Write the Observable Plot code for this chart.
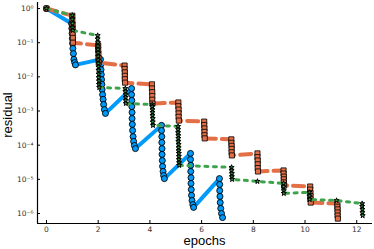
<!DOCTYPE html>
<html><head><meta charset="utf-8">
<script src="https://cdn.jsdelivr.net/npm/d3@7"></script>
<script src="https://cdn.jsdelivr.net/npm/@observablehq/plot@0.6"></script>
<style>html,body{margin:0;padding:0;background:#fff}svg{display:block}</style>
</head><body><div id="chart"></div>
<script>
// ---- axes ----
const xTicks = [0, 2, 4, 6, 8, 10, 12];
const yTicks = [1e0, 1e-1, 1e-2, 1e-3, 1e-4, 1e-5, 1e-6];
const yTickLabels = ["10⁰", "10⁻¹", "10⁻²", "10⁻³", "10⁻⁴", "10⁻⁵", "10⁻⁶"];
const xLabel = "epochs";
const yLabel = "residual";

// ---- series 1 (blue, circles, solid) ----
const blueEpochs = [0,
  0.97, 0.98, 0.99, 1.00, 1.01, 1.02, 1.04, 1.06, 1.09, 1.12,
  2.09, 2.10, 2.11, 2.12, 2.13, 2.14, 2.15, 2.17, 2.19, 2.21, 2.24, 2.28,
  3.29, 3.29, 3.30, 3.30, 3.31, 3.31, 3.32, 3.33, 3.35, 3.37, 3.40, 3.44,
  4.45, 4.45, 4.46, 4.46, 4.47, 4.47, 4.48, 4.49, 4.51, 4.53, 4.56,
  5.57, 5.57, 5.58, 5.58, 5.59, 5.59, 5.60, 5.61, 5.63, 5.66, 5.69,
  6.69, 6.70, 6.70, 6.71, 6.72, 6.74, 6.77, 6.81];
const blueResidual = [1,
  0.363, 0.263, 0.186, 0.132, 0.0955, 0.0676, 0.0479, 0.0324, 0.0263, 0.0224,
  0.0324, 0.0229, 0.0162, 0.0117, 0.00832, 0.00603, 0.00427, 0.00302, 0.00219, 0.00155, 0.00110, 0.000851,
  0.00457, 0.00302, 0.00204, 0.00135, 0.000912, 0.000603, 0.000407, 0.000269, 0.000178, 0.000129, 9.77e-5, 7.94e-5,
  3.80e-4, 2.69e-4, 1.78e-4, 1.20e-4, 7.94e-5, 5.37e-5, 3.55e-5, 2.40e-5, 1.70e-5, 1.29e-5, 1.05e-5,
  5.75e-5, 3.80e-5, 2.57e-5, 1.70e-5, 1.12e-5, 7.59e-6, 5.01e-6, 3.39e-6, 2.40e-6, 1.82e-6, 1.51e-6,
  1.05e-5, 7.08e-6, 4.68e-6, 3.16e-6, 2.09e-6, 1.41e-6, 1.00e-6, 7.59e-7];

// ---- series 2 (orange, squares, dashed) ----
const orangeEpochs = [0,
  1.00, 1.00, 1.01, 1.01, 1.01, 1.02, 1.02,
  2.00, 2.00, 2.01, 2.01, 2.02,
  3.02, 3.02, 3.03, 3.03, 3.03, 3.04,
  4.08, 4.08, 4.09, 4.09, 4.09, 4.10,
  5.10, 5.10, 5.11, 5.11, 5.11, 5.12,
  6.10, 6.10, 6.11, 6.11, 6.11, 6.12,
  7.15, 7.15, 7.16, 7.16, 7.16, 7.17,
  8.16, 8.16, 8.17, 8.17, 8.17, 8.18,
  9.17, 9.17, 9.18, 9.18, 9.18, 9.19,
  10.20, 10.20, 10.21, 10.21, 10.21, 10.22,
  11.25, 11.25, 11.26, 11.26, 11.26, 11.27];
const orangeResidual = [1,
  0.617, 0.457, 0.339, 0.251, 0.186, 0.138, 0.100,
  0.0832, 0.0631, 0.0479, 0.0355, 0.0263,
  0.0214, 0.0170, 0.0135, 0.0107, 0.00851, 0.00676,
  0.00603, 0.00457, 0.00355, 0.00275, 0.00214, 0.00166,
  0.00178, 0.00138, 0.00110, 0.000851, 0.000676, 0.000525,
  4.90e-4, 3.89e-4, 3.09e-4, 2.45e-4, 1.95e-4, 1.58e-4,
  1.48e-4, 1.17e-4, 9.55e-5, 7.76e-5, 6.17e-5, 5.01e-5,
  5.75e-5, 4.47e-5, 3.55e-5, 2.75e-5, 2.14e-5, 1.70e-5,
  1.82e-5, 1.48e-5, 1.20e-5, 1.00e-5, 8.13e-6, 6.61e-6,
  6.17e-6, 5.01e-6, 3.98e-6, 3.24e-6, 2.63e-6, 2.09e-6,
  1.95e-6, 1.58e-6, 1.32e-6, 1.07e-6, 8.71e-7, 7.08e-7];

// ---- series 3 (green, stars, dotted) ----
const greenEpochs = [0,
  1.00, 1.00, 1.01, 1.01, 1.02,
  1.98, 1.98, 1.99, 1.99, 1.99, 2.00, 2.00, 2.00, 2.01, 2.01, 2.01, 2.02, 2.02, 2.03, 2.03, 2.04,
  3.05, 3.05, 3.06, 3.06, 3.06, 3.07,
  4.09, 4.09, 4.10, 4.10, 4.10, 4.11, 4.11, 4.12,
  5.09, 5.09, 5.09, 5.10, 5.10, 5.10, 5.11, 5.11, 5.11, 5.12, 5.12, 5.12, 5.13, 5.13,
  7.16, 7.16, 7.17, 7.17, 7.18,
  8.16,
  9.17, 9.17, 9.18, 9.18,
  10.17, 10.17, 10.18,
  11.22,
  12.21, 12.21, 12.22, 12.22, 12.23];
const greenResidual = [1,
  0.631, 0.479, 0.363, 0.275, 0.229,
  0.162, 0.129, 0.101, 0.0794, 0.0631, 0.0501, 0.0398, 0.0309, 0.0245, 0.0195, 0.0155, 0.0120, 0.00955, 0.00759, 0.00603, 0.00490,
  0.00457, 0.00372, 0.00302, 0.00251, 0.00204, 0.00166,
  0.00155, 0.00135, 0.00110, 0.000912, 0.000741, 0.000603, 0.000479, 0.000380,
  3.55e-4, 2.88e-4, 2.34e-4, 1.91e-4, 1.58e-4, 1.29e-4, 1.05e-4, 8.51e-5, 6.92e-5, 5.75e-5, 4.68e-5, 3.80e-5, 3.09e-5, 2.57e-5,
  2.24e-5, 1.82e-5, 1.48e-5, 1.20e-5, 1.00e-5,
  8.71e-6,
  7.59e-6, 6.03e-6, 4.68e-6, 3.89e-6,
  4.17e-6, 3.24e-6, 2.57e-6,
  2.40e-6,
  1.95e-6, 1.62e-6, 1.32e-6, 1.07e-6, 8.71e-7];

const rows = (xs, ys) => xs.map((x, i) => ({epoch: x, residual: ys[i]}));
const blue = rows(blueEpochs, blueResidual);
const orange = rows(orangeEpochs, orangeResidual);
const green = rows(greenEpochs, greenResidual);

const xDomain = [-0.348, 12.61];
const yDomain = [5.1e-7, 1.5];

const chart = Plot.plot({
  width: 374, height: 249,
  marginLeft: 37, marginRight: 2, marginTop: 2, marginBottom: 26,
  style: {fontFamily: "'DejaVu Sans', sans-serif", fontSize: "7.5px", background: "#fff", color: "#222"},
  x: {domain: xDomain, label: null},
  y: {type: "log", domain: yDomain, label: null},
  marks: [
    Plot.axisX({ticks: xTicks, tickSize: -3, tickPadding: 6, tickFormat: d => String(d), stroke: "#000", fill: "#333"}),
    Plot.axisY({ticks: yTicks, tickSize: -3, tickPadding: 7, tickFormat: d => yTickLabels[yTicks.indexOf(d)], stroke: "#000", fill: "#333"}),
    Plot.line(blue, {x: "epoch", y: "residual", stroke: "#009AFA", strokeWidth: 4}),
    Plot.dot(blue, {x: "epoch", y: "residual", symbol: "circle", r: 3, fill: "#009AFA", stroke: "#000", strokeWidth: 0.9}),
    Plot.line(orange, {x: "epoch", y: "residual", stroke: "#E26F46", strokeWidth: 4, strokeDasharray: "11,6"}),
    Plot.dot(orange, {x: "epoch", y: "residual", symbol: "square", r: 2.9, fill: "#E26F46", stroke: "#000", strokeWidth: 0.9, strokeOpacity: 0.9}),
    Plot.line(green, {x: "epoch", y: "residual", stroke: "#3DA44D", strokeWidth: 3, strokeDasharray: "3,5.5"}),
    Plot.dot(green, {x: "epoch", y: "residual", symbol: "star", r: 1.6, fill: "#3DA44D", stroke: "#000", strokeWidth: 1}),
    Plot.ruleX([xDomain[0]], {stroke: "#000", strokeWidth: 1.2}),
    Plot.ruleY([yDomain[0]], {stroke: "#000", strokeWidth: 1.2})
  ]
});

const svg = d3.select(chart);
svg.append("text")
  .attr("transform", "translate(12,115) rotate(-90)")
  .attr("text-anchor", "middle")
  .style("font-family", "'Liberation Sans', Arial, sans-serif")
  .style("font-size", "13px")
  .attr("fill", "#000")
  .text(yLabel);
svg.append("text")
  .attr("x", 204.5).attr("y", 244.5)
  .attr("text-anchor", "middle")
  .style("font-family", "'Liberation Sans', Arial, sans-serif")
  .style("font-size", "13px")
  .attr("fill", "#000")
  .text(xLabel);

document.getElementById("chart").appendChild(chart);
</script>
</body></html>
